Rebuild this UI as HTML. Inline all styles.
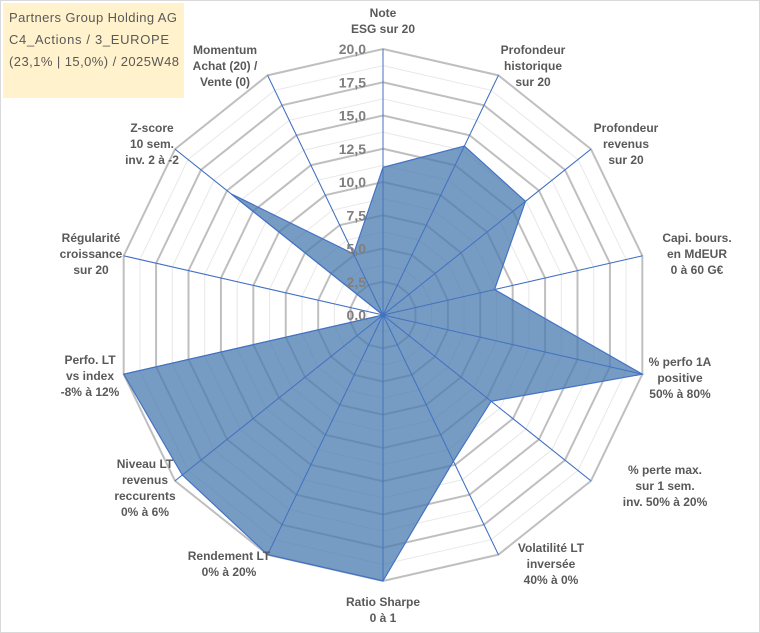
<!DOCTYPE html>
<html><head><meta charset="utf-8"><style>
body{margin:0;background:#fff;}
svg{display:block;font-family:"Liberation Sans",sans-serif;}
</style></head><body>
<svg id="chart" width="760" height="633">
<rect x="0.5" y="0.5" width="759" height="632" fill="#fff" stroke="#d9d9d9"/>
<g id="grid"></g><g id="axes"></g><g id="series"></g><g id="ticks"></g><g id="labels"></g>
<g>
<rect x="3" y="3" width="181" height="95" fill="#fff2cc"/>
<text x="9" y="22" font-size="13" fill="#595959" textLength="168">Partners Group Holding AG</text>
<text x="9" y="44" font-size="13" fill="#595959" textLength="160">C4_Actions / 3_EUROPE</text>
<text x="9" y="66" font-size="13" fill="#595959" textLength="170">(23,1% | 15,0%) / 2025W48</text>
</g>
</svg>
<script>
const categories=[["Note","ESG sur 20"],["Profondeur","historique","sur 20"],["Profondeur","revenus","sur 20"],["Capi. bours.","en MdEUR","0 à 60 G€"],["% perfo 1A","positive","50% à 80%"],["% perte max.","sur 1 sem.","inv. 50% à 20%"],["Volatilité LT","inversée","40% à 0%"],["Ratio Sharpe","0 à 1"],["Rendement LT","0% à 20%"],["Niveau LT","revenus","reccurents","0% à 6%"],["Perfo. LT","vs index","-8% à 12%"],["Régularité","croissance","sur 20"],["Z-score","10 sem.","inv. 2 à -2"],["Momentum","Achat (20) /","Vente (0)"]];
const values=[11.1,14.1,13.7,8.6,20,10.4,12.2,20,20,19.3,20,0,14.6,5.1];
const tickLabels=["0,0","2,5","5,0","7,5","10,0","12,5","15,0","17,5","20,0"];
const maxV=20;
const labelPos=[[383,13],[533,50],[626,128],[697,238],[680,362],[665,470],[551,548],[383,602],[229,556],[145,464],[90,360],[91,238],[152,128],[225,50]];
const cx=383,cy=315,R=266,N=categories.length,NS="http://www.w3.org/2000/svg";
function pt(i,v){const a=i*2*Math.PI/N;const r=v/maxV*R;return [cx+r*Math.sin(a),cy-r*Math.cos(a)];}
function mk(tag,attrs,parent){const e=document.createElementNS(NS,tag);for(const k in attrs)e.setAttribute(k,attrs[k]);parent.appendChild(e);return e;}
const grid=document.getElementById('grid');
for(let s=1;s<=16;s++){const v=s*1.25;const pts=[];for(let i=0;i<N;i++)pts.push(pt(i,v).join(','));
 const major=s%2===0;
 const g=mk('polygon',{points:pts.join(' '),fill:'none',stroke:major?'#bfbfbf':'#e8e8e8','stroke-width':major?2:1},grid);
 
 }
const axes=document.getElementById('axes');
for(let i=0;i<N;i++){const p=pt(i,maxV);const l=mk('line',{x1:cx,y1:cy,x2:p[0],y2:p[1],stroke:'#4472c4','stroke-width':1},axes);
 
 }
const ser=document.getElementById('series');
const poly=mk('polygon',{points:values.map((v,i)=>pt(i,v).join(',')).join(' '),fill:'#4a7bb0','fill-opacity':0.75,stroke:'#4472c4','stroke-width':1.2},ser);


for(let i=0;i<N;i++){const p=pt(i,maxV);const l=mk('line',{x1:cx,y1:cy,x2:p[0],y2:p[1],stroke:'#4472c4','stroke-width':0.8},ser);
 
 }
const ticks=document.getElementById('ticks');
tickLabels.forEach((t,k)=>{const y=cy-(k*2.5)/maxV*R;const e=mk('text',{x:366,y:y+5,'text-anchor':'end','font-size':14,'font-weight':'bold',fill:'#7f7f7f'},ticks);e.textContent=t;
 
 });
const labels=document.getElementById('labels');
categories.forEach((lines,i)=>{const [x,y]=labelPos[i];const t=mk('text',{x:x,y:y+4,'text-anchor':'middle','font-size':12,'font-weight':'bold',fill:'#595959'},labels);
 
 
 lines.forEach((ln,j)=>{const s=mk('tspan',{x:x,dy:j===0?0:16},t);s.textContent=ln;});});
</script>
</body></html>
